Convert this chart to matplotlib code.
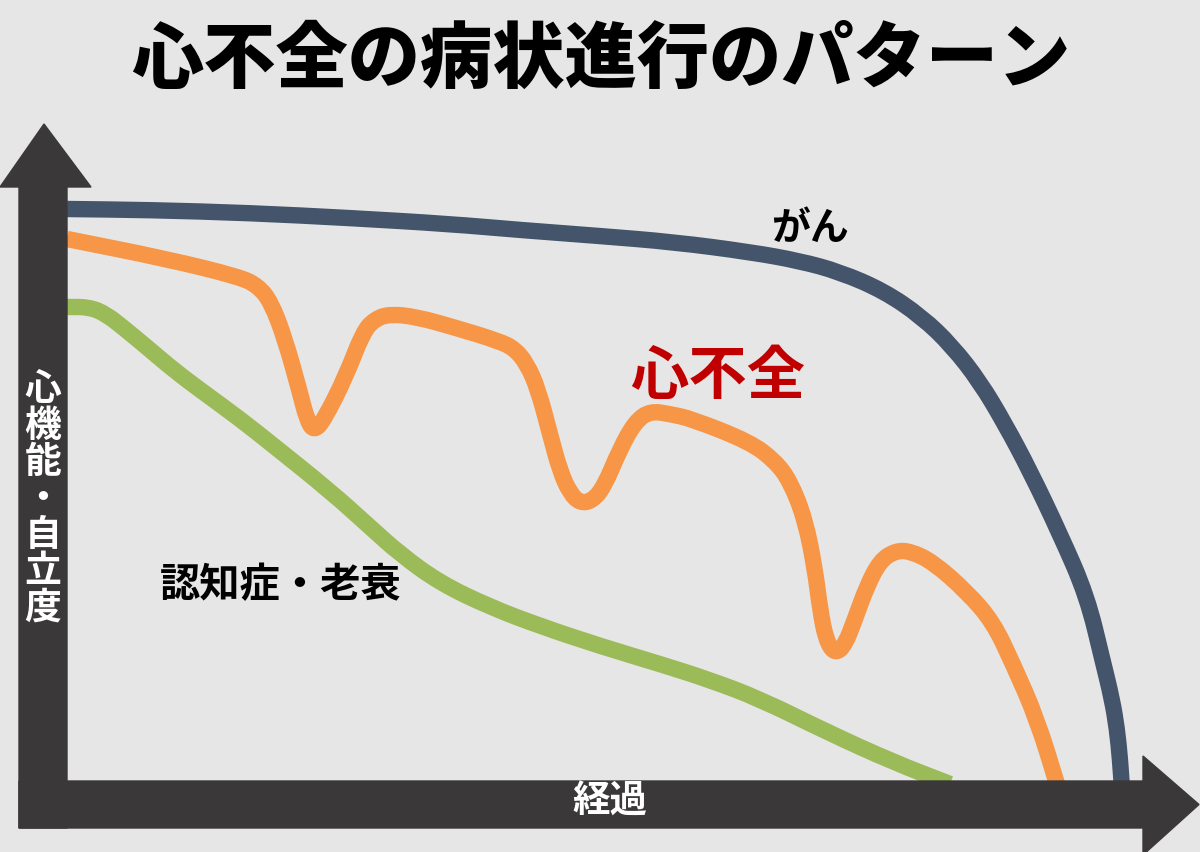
import matplotlib
matplotlib.use('Agg')
import matplotlib.pyplot as plt
from matplotlib.patches import Polygon, PathPatch
from matplotlib.path import Path

plt.rcParams['font.family'] = ['Noto Sans CJK JP', 'DejaVu Sans']

# curves (x = elapsed time, y = image rows, top = good)
gan_x = [67, 150, 250, 350, 450, 520, 600, 673, 750, 800, 840, 884, 922, 952, 980,
         1005, 1030, 1060, 1087, 1103, 1112, 1117, 1120, 1122]
gan_y = [210, 211, 214, 219, 225, 231, 237, 243, 253, 262, 273, 292, 318, 347, 383,
         425, 472, 535, 597, 663, 700, 730, 760, 790]

heart_x = [67, 167, 240, 258, 271, 285, 299, 307, 314, 324, 346, 363, 375, 390, 417,
           453, 499, 515, 527, 538, 550, 560, 570, 580, 592, 604, 620, 635, 650, 670,
           692, 750, 775, 790, 805, 815, 820, 826, 835, 845, 855, 867, 880, 895, 910,
           933, 967, 993, 1013, 1037, 1057]
heart_y = [240, 260, 278, 287, 303, 340, 390, 421, 432, 421, 377, 333, 320, 315, 318,
           328, 342, 350, 365, 390, 435, 472, 494, 504, 502, 488, 450, 423, 412, 415,
           420, 443, 462, 482, 520, 570, 610, 641, 655, 646, 620, 587, 562, 552, 552,
           563, 593, 623, 665, 720, 785]

dementia_x = [67, 89, 106, 125, 149, 175, 203, 240, 274, 330, 370, 400, 440, 490, 540,
              600, 660, 710, 760, 827, 893, 950]
dementia_y = [308, 308, 315, 330, 350, 372, 393, 420, 447, 492, 528, 555, 584, 608, 627,
              647, 665, 681, 700, 733, 763, 785]

title = '心不全の病状進行のパターン'
labels = ['がん', '心不全', '認知症・老衰']
ylabel = '心機能・自立度'
xlabel = '経過'

bg = '#e6e6e6'
bar = '#3a3839'


def smooth_curve(ax, xs, ys, color):
    # read points act as quadratic bezier controls, matplotlib draws the curve
    pts = list(zip(xs, ys))
    verts = [pts[0]]
    codes = [Path.MOVETO]
    mid = ((pts[0][0] + pts[1][0]) / 2, (pts[0][1] + pts[1][1]) / 2)
    verts.append(mid)
    codes.append(Path.LINETO)
    for i in range(1, len(pts) - 1):
        mid = ((pts[i][0] + pts[i + 1][0]) / 2, (pts[i][1] + pts[i + 1][1]) / 2)
        verts += [pts[i], mid]
        codes += [Path.CURVE3, Path.CURVE3]
    verts.append(pts[-1])
    codes.append(Path.LINETO)
    ax.add_patch(PathPatch(Path(verts, codes), fill=False, edgecolor=color, lw=11.8,
                           joinstyle='round', capstyle='butt', zorder=2))


fig = plt.figure(figsize=(12, 8.53), dpi=100, facecolor=bg)
ax = fig.add_axes([0, 0, 1, 1])
ax.set_facecolor(bg)
ax.set_xlim(0, 1200)
ax.set_ylim(853, 0)
ax.set_axis_off()

smooth_curve(ax, gan_x, gan_y, '#44546a')
smooth_curve(ax, heart_x, heart_y, '#f79646')
smooth_curve(ax, dementia_x, dementia_y, '#9bbb59')

# big arrow axes
ax.add_patch(Polygon([(19, 829), (19, 188), (0, 188), (44, 125), (91, 188), (67, 188), (67, 829)],
                     closed=True, color=bar, zorder=3))
ax.add_patch(Polygon([(19, 782), (1143, 782), (1143, 757), (1199, 805.5), (1143, 856), (1143, 829), (19, 829)],
                     closed=True, color=bar, zorder=3))

ax.text(601, 61, title, ha='center', va='center', fontsize=52, fontweight='black', color='black')
ax.text(810, 228, labels[0], ha='center', va='center', fontsize=28, fontweight='bold', color='black')
ax.text(718, 377, labels[1], ha='center', va='center', fontsize=42, fontweight='bold', color='#c00000')
ax.text(281, 586, labels[2], ha='center', va='center', fontsize=29, fontweight='bold', color='black')
ax.text(43, 499, '\n'.join(ylabel), ha='center', va='center', fontsize=26.5, fontweight='bold',
        color='white', linespacing=0.98, zorder=4)
ax.text(610, 801, xlabel, ha='center', va='center', fontsize=27, fontweight='bold', color='white', zorder=4)

plt.savefig('out.png', dpi=100, facecolor=bg)
